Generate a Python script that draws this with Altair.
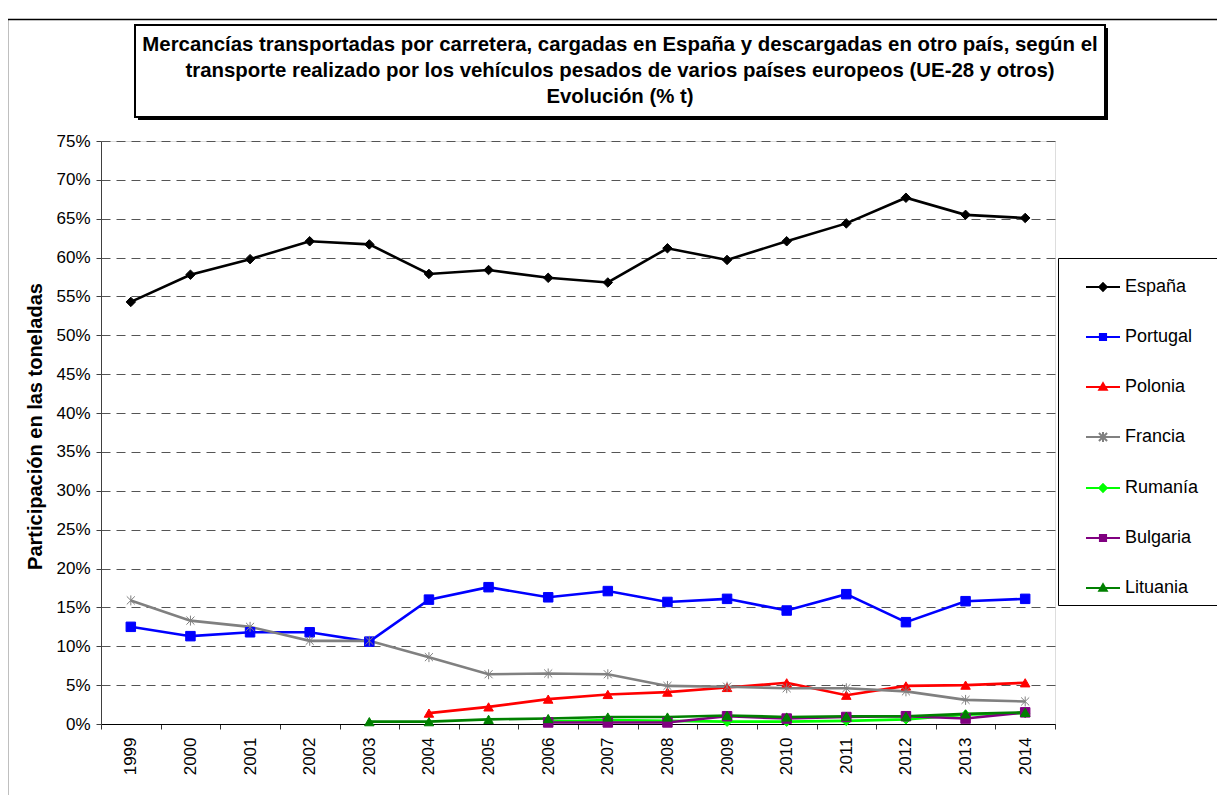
import altair as alt
import pandas as pd

years = [str(y) for y in range(1999, 2015)]
countries = ["España", "Portugal", "Polonia", "Francia", "Rumanía", "Bulgaria", "Lituania"]
colors = ["#000000", "#0000FF", "#FF0000", "#808080", "#00FF00", "#800080", "#008000"]

espana = [54.3, 57.8, 59.8, 62.1, 61.7, 57.9, 58.4, 57.4, 56.8, 61.2, 59.7, 62.1, 64.4, 67.7, 65.5, 65.1]
portugal = [12.5, 11.3, 11.8, 11.8, 10.6, 16.0, 17.6, 16.3, 17.1, 15.7, 16.1, 14.6, 16.7, 13.1, 15.8, 16.1]
polonia = [None, None, None, None, None, 1.4, 2.2, 3.2, 3.8, 4.1, 4.7, 5.3, 3.7, 4.9, 5.0, 5.3]
francia = [15.9, 13.3, 12.5, 10.7, 10.7, 8.6, 6.4, 6.5, 6.4, 4.9, 4.8, 4.6, 4.6, 4.2, 3.1, 2.9]
rumania = [None, None, None, None, None, None, None, 0.3, 0.5, 0.4, 0.3, 0.3, 0.4, 0.6, 1.2, 1.4]
bulgaria = [None, None, None, None, None, None, None, 0.2, 0.2, 0.2, 1.0, 0.7, 0.9, 1.0, 0.7, 1.5]
lituania = [None, None, None, None, 0.3, 0.3, 0.6, 0.7, 0.9, 0.9, 1.1, 0.9, 1.0, 1.0, 1.3, 1.5]

series = [espana, portugal, polonia, francia, rumania, bulgaria, lituania]

ASTER = "M0,-1.05V1.05M-0.85,-0.85L0.85,0.85M-0.85,0.85L0.85,-0.85"
markers = ["diamond", "square", "triangle-up", ASTER, "diamond", "square", "triangle-up"]

L_DIAMOND = "M-1,0H1M0,-0.22L0.22,0L0,0.22L-0.22,0Z"
L_SQUARE = "M-1,0H1M-0.18,-0.18H0.18V0.18H-0.18Z"
L_TRI = "M-1,0H1M0,-0.22L0.22,0.16H-0.22Z"
L_ASTER = "M-1,0H1M0,-0.3V0.3M-0.24,-0.24L0.24,0.24M-0.24,0.24L0.24,-0.24"
legend_symbols = [L_DIAMOND, L_SQUARE, L_TRI, L_ASTER, L_DIAMOND, L_SQUARE, L_TRI]

title_lines = [
    "Mercancías transportadas por carretera, cargadas en España y descargadas en otro país, según el",
    "transporte realizado por los vehículos pesados de varios países europeos (UE-28 y otros)",
    "Evolución (% t)",
]

rows = []
for c, vals, mk in zip(countries, series, markers):
    for y, v in zip(years, vals):
        if v is not None:
            rows.append({"year": y, "pais": c, "val": v, "mk": mk})
df = pd.DataFrame(rows)

FONT = "Liberation Sans"
W, H = 954, 583

stroke_scale = alt.Scale(domain=countries, range=colors)
fill_scale = alt.Scale(domain=countries, range=colors)
shape_scale = alt.Scale(domain=countries, range=legend_symbols)

x_enc = alt.X(
    "year:O",
    scale=alt.Scale(type="band", domain=years, paddingInner=0, paddingOuter=0),
    axis=alt.Axis(
        title=None, labelAngle=270, labelAlign="right", labelBaseline="middle",
        labelPadding=8, tickBand="extent", tickSize=5, grid=False,
        labelFontSize=17, labelFont=FONT, labelColor="black",
        domainColor="#000000", tickColor="#333333",
    ),
)
y_enc = alt.Y(
    "val:Q",
    scale=alt.Scale(domain=[0, 75], nice=False, zero=True),
    axis=alt.Axis(
        title="Participación en las toneladas",
        values=list(range(0, 80, 5)),
        labelExpr="datum.value + '%'",
        labelFontSize=17, labelFont=FONT, labelColor="black", labelPadding=6,
        tickSize=5, tickColor="#404040", domainColor="#404040",
        grid=True, gridDash=[9, 6], gridColor="#555555", gridWidth=1,
        titleFont=FONT, titleFontSize=20, titleFontWeight="bold", titleColor="black",
        titleAngle=270, titleX=-66, titleY=285, titleAlign="center", titleBaseline="middle",
    ),
)

deco = pd.DataFrame({"d": [0]})

frame = alt.Chart(deco).mark_rect(fillOpacity=0, stroke="black", strokeWidth=1.5).encode(
    x=alt.value(-93.5), x2=alt.value(1400), y=alt.value(-121.5), y2=alt.value(900)
)
shadow = alt.Chart(deco).mark_rect(fill="black").encode(
    x=alt.value(37), x2=alt.value(1007), y=alt.value(-113), y2=alt.value(-21)
)
tbox = alt.Chart(deco).mark_rect(fill="white", stroke="black", strokeWidth=2).encode(
    x=alt.value(34), x2=alt.value(1004), y=alt.value(-116), y2=alt.value(-24)
)
ttext = alt.Chart(deco).mark_text(
    font=FONT, fontSize=20.4, fontWeight="bold", color="black",
    align="center", baseline="middle", lineHeight=26,
).encode(x=alt.value(519), y=alt.value(-96), text=alt.value(title_lines))
lbox = alt.Chart(deco).mark_rect(fill="white", stroke="black", strokeWidth=1).encode(
    x=alt.value(957.5), x2=alt.value(1300), y=alt.value(117.5), y2=alt.value(464.5)
)

lines = alt.Chart(df).mark_line(strokeWidth=2.6).encode(
    x=x_enc, y=y_enc,
    stroke=alt.Stroke("pais:N", scale=stroke_scale, legend=None),
    detail="pais:N",
)
points = alt.Chart(df).mark_point(filled=True, size=90, strokeWidth=1, opacity=1).encode(
    x=x_enc, y=y_enc,
    fill=alt.Fill("pais:N", scale=fill_scale, legend=None),
    stroke=alt.Stroke("pais:N", scale=stroke_scale, legend=None),
    shape=alt.Shape("mk:N", scale=None),
)

leg = alt.Legend(
    title=None, orient="none", legendX=957, legendY=117, padding=11,
    symbolOffset=16, labelOffset=4, rowPadding=23, symbolSize=1156,
    symbolStrokeWidth=2, symbolOpacity=1, labelFontSize=18, labelFont=FONT,
    labelColor="black", labelLimit=200,
)
legend_layer = alt.Chart(df).transform_filter("false").mark_point(
    filled=True, size=90, strokeWidth=2, opacity=1
).encode(
    x=x_enc, y=y_enc,
    fill=alt.Fill("pais:N", scale=fill_scale, legend=leg),
    stroke=alt.Stroke("pais:N", scale=stroke_scale, legend=leg),
    shape=alt.Shape("pais:N", scale=shape_scale, legend=leg),
)

chart = alt.layer(legend_layer, frame, shadow, tbox, ttext, lbox, lines, points).properties(
    width=W, height=H,
    padding={"left": 93, "top": 133, "right": 162, "bottom": 71},
    autosize=alt.AutoSizeParams(type="none"),
).configure_view(stroke="#808080", strokeWidth=1).configure(background="white")

chart.save("out.html", embed_options={"renderer": "svg", "actions": False})
